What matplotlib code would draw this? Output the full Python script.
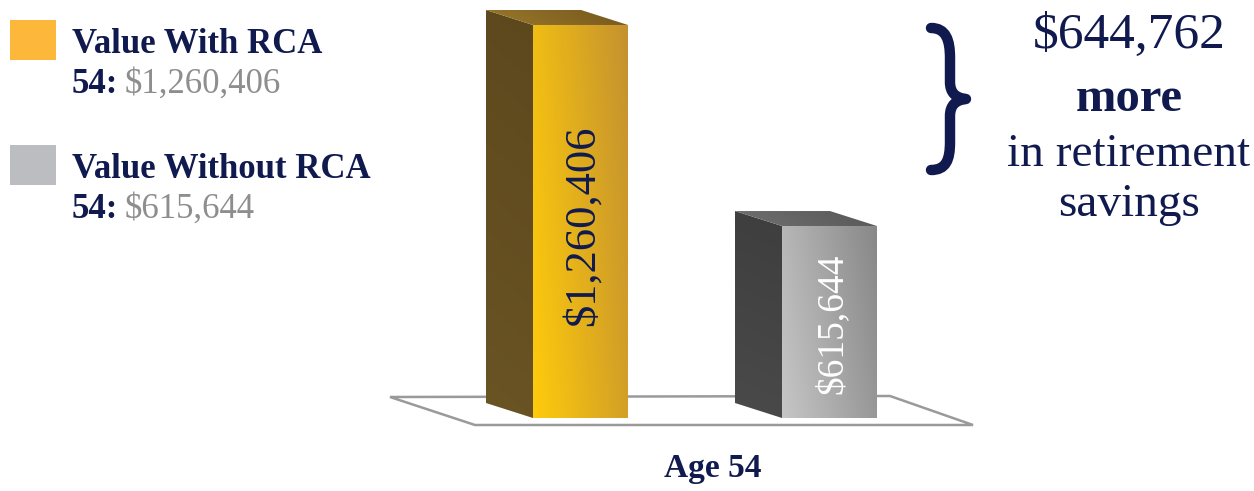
import numpy as np
import matplotlib
matplotlib.use('Agg')
import matplotlib.pyplot as plt
from matplotlib.patches import Polygon, Rectangle, PathPatch
from matplotlib.path import Path
from matplotlib.colors import to_rgb
from matplotlib.transforms import blended_transform_factory

# %%
# dados
categories = ['Age 54']
series = ['Value With RCA', 'Value Without RCA']
values = [1260406, 615644]
age = 54

# %%
# estilo
W, H = 1254, 491
NAVY = '#101a4e'
GREY_TXT = '#8e8e8e'
plt.rcParams['font.family'] = ['Liberation Serif', 'DejaVu Serif']

legend_colors = ['#fdb73b', '#bcbdc0']
front_cols = [('#ffcb0c', '#c4922f'), ('#c6c6c6', '#888888')]
top_cols = [('#9a782b', '#76571d'), ('#707070', '#575757')]
side_cols = [('#5d481e', '#6a5424'), ('#3e3e3e', '#4a4a4a')]
label_cols = [NAVY, 'white']
label_sizes = [32, 27]

PX_PER_CAT = 249      # largura de uma categoria em px
GROUP_PX = 705        # centro do grupo em px
BASE_PX = 418         # linha de base em px
VAL_PER_PX = 3207.0   # dolares por pixel
offsets = [-0.5, 0.5]
bar_w = 95 / PX_PER_CAT
dx = -47 / PX_PER_CAT
dy = 15 * VAL_PER_PX


def gradient(ca, cb, wx, wy, n=64):
    xx, yy = np.meshgrid(np.linspace(0, 1, n), np.linspace(0, 1, n))
    t = (wx * xx + wy * yy) / (wx + wy)
    a, b = np.array(to_rgb(ca)), np.array(to_rgb(cb))
    return a[None, None, :] * (1 - t[..., None]) + b[None, None, :] * t[..., None]


fig = plt.figure(figsize=(W / 100, H / 100), dpi=100)

# eixo em pixels para decoracao
bg = fig.add_axes([0, 0, 1, 1])
bg.set_xlim(0, W)
bg.set_ylim(H, 0)
bg.axis('off')

floor = Polygon([(390, 397), (890, 396), (973, 425), (475, 425)], closed=True,
                facecolor='white', edgecolor='#9a9a9a', lw=1.8, zorder=1)
bg.add_patch(floor)

# eixo dos dados
ax = fig.add_axes([0, 0, 1, 1])
ax.patch.set_alpha(0)
ax.axis('off')

bars = ax.bar(offsets, values, width=bar_w, color='none', edgecolor='none', zorder=3)
for i, (b, v) in enumerate(zip(bars, values)):
    x0 = offsets[i] - bar_w / 2
    x1 = offsets[i] + bar_w / 2
    # face frontal
    img = gradient(front_cols[i][0], front_cols[i][1], 0.75, 0.25)
    im = ax.imshow(img, extent=[x0, x1, 0, v], origin='lower', aspect='auto', zorder=3)
    im.set_clip_path(b)
    # lateral
    side = Polygon([(x0, 0), (x0, v), (x0 + dx, v + dy), (x0 + dx, dy)], closed=True,
                   facecolor='none', edgecolor='none', zorder=2)
    ax.add_patch(side)
    img = gradient(side_cols[i][1], side_cols[i][0], 0.1, 1.0)
    im = ax.imshow(img, extent=[x0 + dx, x0, 0, v + dy], origin='lower', aspect='auto', zorder=2)
    im.set_clip_path(side)
    # topo
    top = Polygon([(x0, v), (x1, v), (x1 + dx, v + dy), (x0 + dx, v + dy)], closed=True,
                  facecolor='none', edgecolor='none', zorder=2)
    ax.add_patch(top)
    img = gradient(top_cols[i][0], top_cols[i][1], 1.0, 0.2)
    im = ax.imshow(img, extent=[x0 + dx, x1, v, v + dy], origin='lower', aspect='auto', zorder=2)
    im.set_clip_path(top)
    # rotulo
    ax.text(offsets[i] + 0.01, v * 0.49, f'${v:,}', rotation=90, ha='center', va='center',
            color=label_cols[i], fontsize=label_sizes[i], zorder=4)

ax.set_xlim(-GROUP_PX / PX_PER_CAT, (W - GROUP_PX) / PX_PER_CAT)
ax.set_ylim(-(H - BASE_PX) * VAL_PER_PX, BASE_PX * VAL_PER_PX)

# rotulo da categoria
tr = blended_transform_factory(ax.transData, bg.transData)
ax.text(0.03, 477, categories[0], transform=tr, ha='center', va='baseline',
        color=NAVY, fontsize=24, fontweight='bold')

# %%
# legenda
leg_y = [20, 145]
for i, name in enumerate(series):
    y = leg_y[i]
    bg.add_patch(Rectangle((10, y), 46, 40, facecolor=legend_colors[i], edgecolor='none'))
    bg.text(72, y + 33, name, ha='left', va='baseline', color=NAVY, fontsize=25, fontweight='bold')
    bg.text(72, y + 73, f'{age}:', ha='left', va='baseline', color=NAVY, fontsize=25, fontweight='bold')
    bg.text(125, y + 73, f'${values[i]:,}', ha='left', va='baseline', color=GREY_TXT, fontsize=25)

# %%
# chave e texto da diferenca
verts = [(931, 28), (946, 28), (950, 40), (950, 58),
         (950, 82),
         (950, 93), (956, 98), (966, 99),
         (956, 100), (950, 105), (950, 116),
         (950, 142),
         (950, 160), (946, 170), (931, 170)]
codes = [Path.MOVETO, Path.CURVE4, Path.CURVE4, Path.CURVE4,
         Path.LINETO,
         Path.CURVE4, Path.CURVE4, Path.CURVE4,
         Path.CURVE4, Path.CURVE4, Path.CURVE4,
         Path.LINETO,
         Path.CURVE4, Path.CURVE4, Path.CURVE4]
bg.add_patch(PathPatch(Path(verts, codes), facecolor='none', edgecolor=NAVY, lw=7.5,
                       capstyle='round', joinstyle='round'))

diff = values[0] - values[1]
cx = 1129
bg.text(cx, 48, f'${diff:,}', ha='center', va='baseline', color=NAVY, fontsize=37)
bg.text(cx, 111, 'more', ha='center', va='baseline', color=NAVY, fontsize=35, fontweight='bold')
bg.text(cx, 166, 'in retirement', ha='center', va='baseline', color=NAVY, fontsize=34)
bg.text(cx, 216, 'savings', ha='center', va='baseline', color=NAVY, fontsize=34)

fig.savefig('out.png', dpi=100)
